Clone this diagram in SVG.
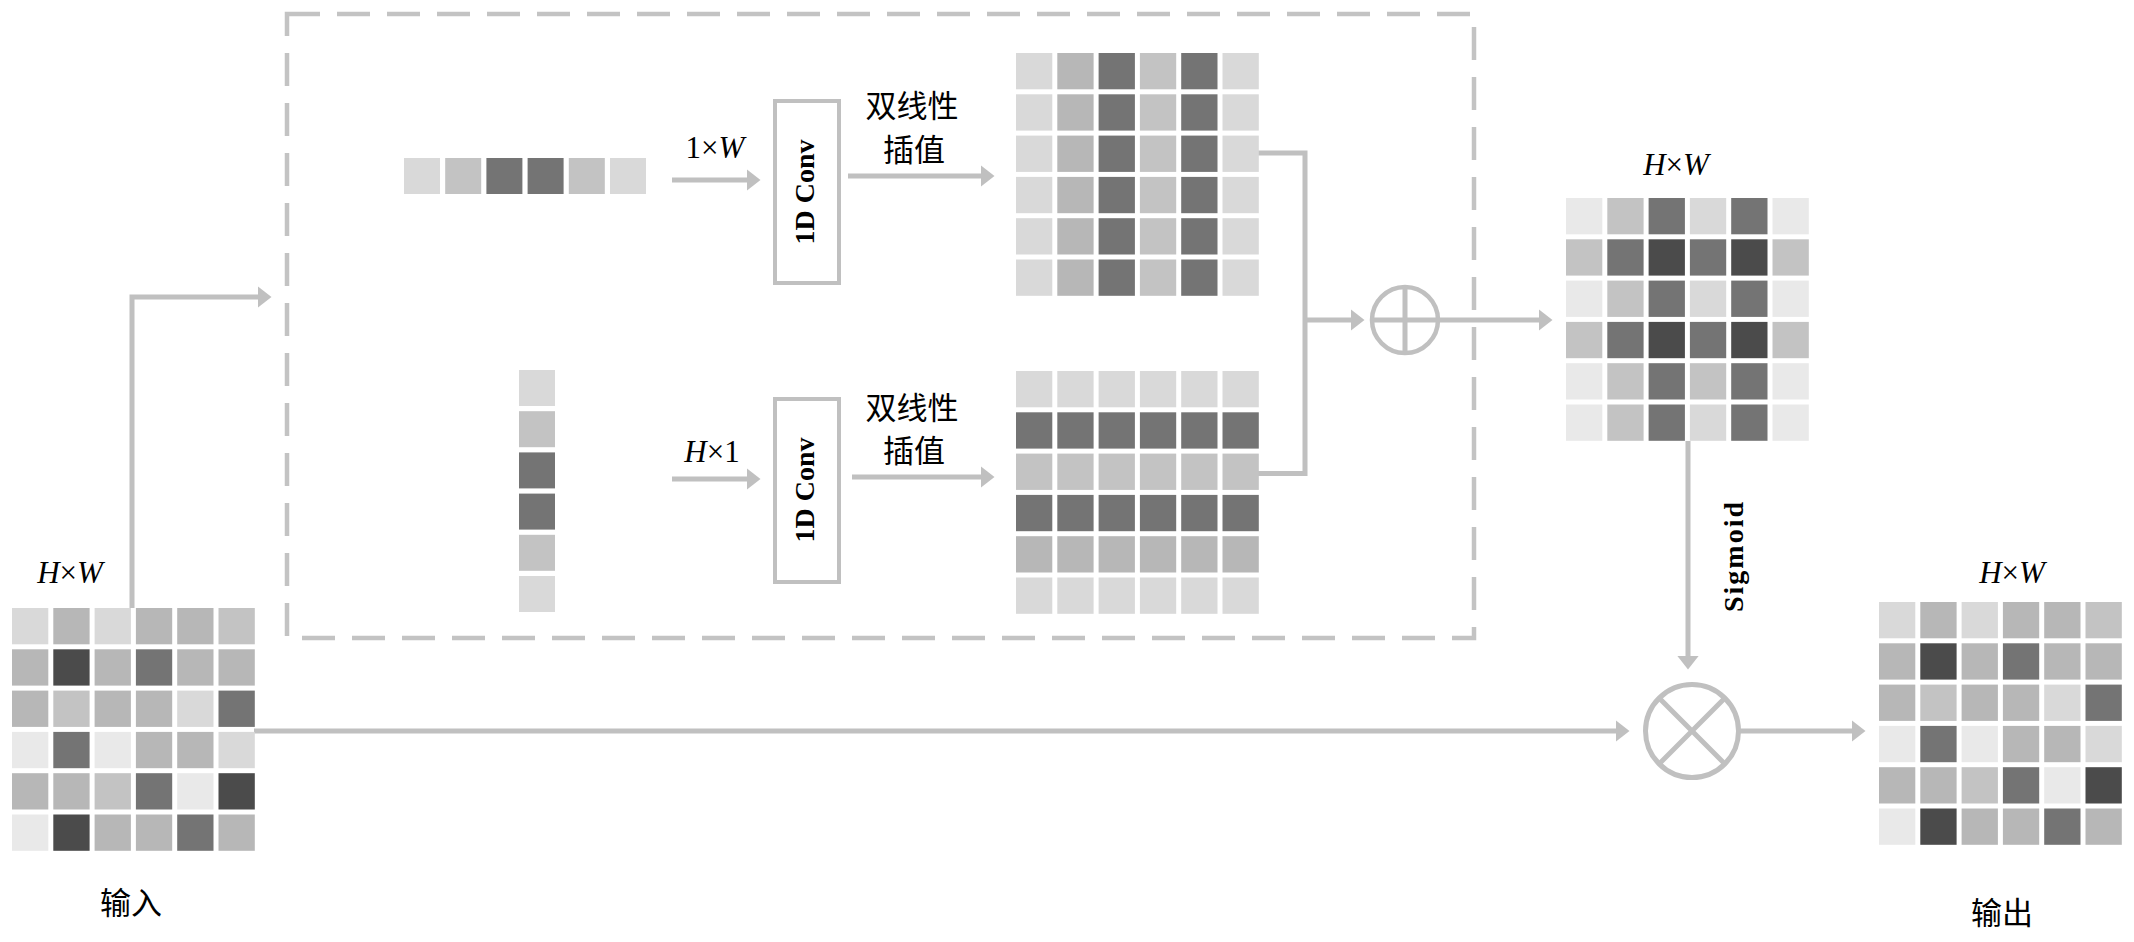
<svg xmlns="http://www.w3.org/2000/svg" width="2134" height="942" viewBox="0 0 2134 942">
<style>
.c1{fill:#e9e9e9}.c2{fill:#d9d9d9}.c3{fill:#c3c3c3}.c4{fill:#b7b7b7}.c5{fill:#747474}.c6{fill:#4b4b4b}
.ln{fill:none;stroke:#c0c0c0;stroke-width:5}
.box{fill:none;stroke:#c0c0c0;stroke-width:4}
.dash{fill:none;stroke:#c3c3c3;stroke-width:4.5;stroke-dasharray:33 17}
.lab{font-family:"Liberation Serif","Times New Roman",serif;font-size:31px;fill:#000}
.it{font-style:italic}
.bold{font-family:"Liberation Serif","Times New Roman",serif;font-weight:bold;font-size:28px;fill:#000}
.cjk{font-family:"Noto Sans CJK SC","Noto Sans",sans-serif;font-size:31px;fill:#000}
</style>
<defs>
<marker id="ah" viewBox="0 0 14 22" markerWidth="14" markerHeight="22" refX="0.5" refY="11" orient="auto" markerUnits="userSpaceOnUse">
<path d="M0,0 L14,11 L0,22 Z" fill="#c0c0c0"/>
</marker>
</defs>
<rect width="2134" height="942" fill="#fff"/>

<g id="dashed-box"><rect class="dash" x="287" y="14" width="1187" height="624"/></g>

<g id="connectors">
<path class="ln" d="M132,608 V297 H258" marker-end="url(#ah)"/>
<path class="ln" d="M672,180 H747" marker-end="url(#ah)"/>
<path class="ln" d="M672,479 H747" marker-end="url(#ah)"/>
<path class="ln" d="M848,176 H981" marker-end="url(#ah)"/>
<path class="ln" d="M852,477 H981" marker-end="url(#ah)"/>
<path class="ln" d="M1258,153 H1305 V473.5 H1258"/>
<path class="ln" d="M1305,320 H1351" marker-end="url(#ah)"/>
<path class="ln" d="M1438,320 H1539" marker-end="url(#ah)"/>
<path class="ln" d="M1688,441 V656" marker-end="url(#ah)"/>
<path class="ln" d="M254,731 H1616" marker-end="url(#ah)"/>
<path class="ln" d="M1739,731 H1852" marker-end="url(#ah)"/>
</g>

<g id="input">
<text class="lab" x="70" y="583" text-anchor="middle"><tspan class="it">H</tspan>×<tspan class="it">W</tspan></text>
<g transform="translate(12,608)">
<rect class="c2" x="0" y="0" width="36.3" height="36.3"/><rect class="c4" x="41.3" y="0" width="36.3" height="36.3"/><rect class="c2" x="82.6" y="0" width="36.3" height="36.3"/><rect class="c4" x="123.9" y="0" width="36.3" height="36.3"/><rect class="c4" x="165.2" y="0" width="36.3" height="36.3"/><rect class="c3" x="206.5" y="0" width="36.3" height="36.3"/>
<rect class="c4" x="0" y="41.3" width="36.3" height="36.3"/><rect class="c6" x="41.3" y="41.3" width="36.3" height="36.3"/><rect class="c4" x="82.6" y="41.3" width="36.3" height="36.3"/><rect class="c5" x="123.9" y="41.3" width="36.3" height="36.3"/><rect class="c4" x="165.2" y="41.3" width="36.3" height="36.3"/><rect class="c4" x="206.5" y="41.3" width="36.3" height="36.3"/>
<rect class="c4" x="0" y="82.6" width="36.3" height="36.3"/><rect class="c3" x="41.3" y="82.6" width="36.3" height="36.3"/><rect class="c4" x="82.6" y="82.6" width="36.3" height="36.3"/><rect class="c4" x="123.9" y="82.6" width="36.3" height="36.3"/><rect class="c2" x="165.2" y="82.6" width="36.3" height="36.3"/><rect class="c5" x="206.5" y="82.6" width="36.3" height="36.3"/>
<rect class="c1" x="0" y="123.9" width="36.3" height="36.3"/><rect class="c5" x="41.3" y="123.9" width="36.3" height="36.3"/><rect class="c1" x="82.6" y="123.9" width="36.3" height="36.3"/><rect class="c4" x="123.9" y="123.9" width="36.3" height="36.3"/><rect class="c4" x="165.2" y="123.9" width="36.3" height="36.3"/><rect class="c2" x="206.5" y="123.9" width="36.3" height="36.3"/>
<rect class="c4" x="0" y="165.2" width="36.3" height="36.3"/><rect class="c4" x="41.3" y="165.2" width="36.3" height="36.3"/><rect class="c3" x="82.6" y="165.2" width="36.3" height="36.3"/><rect class="c5" x="123.9" y="165.2" width="36.3" height="36.3"/><rect class="c1" x="165.2" y="165.2" width="36.3" height="36.3"/><rect class="c6" x="206.5" y="165.2" width="36.3" height="36.3"/>
<rect class="c1" x="0" y="206.5" width="36.3" height="36.3"/><rect class="c6" x="41.3" y="206.5" width="36.3" height="36.3"/><rect class="c4" x="82.6" y="206.5" width="36.3" height="36.3"/><rect class="c4" x="123.9" y="206.5" width="36.3" height="36.3"/><rect class="c5" x="165.2" y="206.5" width="36.3" height="36.3"/><rect class="c4" x="206.5" y="206.5" width="36.3" height="36.3"/>
</g>
<text class="cjk" x="131" y="914" text-anchor="middle" font-size="33">输入</text>
</g>

<g id="row-vector" transform="translate(404,158)">
<rect class="c2" x="0" y="0" width="36" height="36"/><rect class="c3" x="41.2" y="0" width="36" height="36"/><rect class="c5" x="82.4" y="0" width="36" height="36"/><rect class="c5" x="123.6" y="0" width="36" height="36"/><rect class="c3" x="164.8" y="0" width="36" height="36"/><rect class="c2" x="206" y="0" width="36" height="36"/>
</g>
<g id="col-vector" transform="translate(519,370)">
<rect class="c2" x="0" y="0" width="36" height="36"/><rect class="c3" x="0" y="41.2" width="36" height="36"/><rect class="c5" x="0" y="82.4" width="36" height="36"/><rect class="c5" x="0" y="123.6" width="36" height="36"/><rect class="c3" x="0" y="164.8" width="36" height="36"/><rect class="c2" x="0" y="206" width="36" height="36"/>
</g>

<g id="label-1xW"><text class="lab" x="715" y="158" text-anchor="middle">1×<tspan class="it">W</tspan></text></g>
<g id="label-Hx1"><text class="lab" x="712" y="462" text-anchor="middle"><tspan class="it">H</tspan>×1</text></g>

<g id="conv-top">
<rect class="box" x="775" y="101" width="64" height="182"/>
<text class="bold" transform="translate(814,192) rotate(-90)" text-anchor="middle">1D Conv</text>
</g>
<g id="conv-bottom">
<rect class="box" x="775" y="399" width="64" height="183"/>
<text class="bold" transform="translate(814,490) rotate(-90)" text-anchor="middle">1D Conv</text>
</g>

<g id="interp-top-label">
<text class="cjk" x="912" y="117" text-anchor="middle">双线性</text>
<text class="cjk" x="914" y="161" text-anchor="middle">插值</text>
</g>
<g id="interp-bottom-label">
<text class="cjk" x="912" y="419" text-anchor="middle">双线性</text>
<text class="cjk" x="914" y="462" text-anchor="middle">插值</text>
</g>

<g id="interp-top" transform="translate(1016,53)">
<g id="colrow">
<rect class="c2" x="0" y="0" width="36.3" height="36.3"/><rect class="c4" x="41.3" y="0" width="36.3" height="36.3"/><rect class="c5" x="82.6" y="0" width="36.3" height="36.3"/><rect class="c3" x="123.9" y="0" width="36.3" height="36.3"/><rect class="c5" x="165.2" y="0" width="36.3" height="36.3"/><rect class="c2" x="206.5" y="0" width="36.3" height="36.3"/>
</g>
<use href="#colrow" y="41.3"/><use href="#colrow" y="82.6"/><use href="#colrow" y="123.9"/><use href="#colrow" y="165.2"/><use href="#colrow" y="206.5"/>
</g>

<g id="interp-bottom" transform="translate(1016,371)">
<rect class="c2" x="0" y="0" width="242.8" height="36.3"/>
<rect class="c5" x="0" y="41.3" width="242.8" height="36.3"/>
<rect class="c3" x="0" y="82.6" width="242.8" height="36.3"/>
<rect class="c5" x="0" y="123.9" width="242.8" height="36.3"/>
<rect class="c4" x="0" y="165.2" width="242.8" height="36.3"/>
<rect class="c2" x="0" y="206.5" width="242.8" height="36.3"/>
<g fill="#fff"><rect x="36.3" y="0" width="5" height="243"/><rect x="77.6" y="0" width="5" height="243"/><rect x="118.9" y="0" width="5" height="243"/><rect x="160.2" y="0" width="5" height="243"/><rect x="201.5" y="0" width="5" height="243"/></g>
</g>

<g id="add-op">
<circle cx="1405" cy="320" r="33" fill="#fff" stroke="#c0c0c0" stroke-width="4.5"/>
<path class="ln" d="M1372,320 H1438 M1405,287 V353" stroke-width="4.5"/>
</g>

<g id="attention-map">
<text class="lab" x="1676" y="175" text-anchor="middle"><tspan class="it">H</tspan>×<tspan class="it">W</tspan></text>
<g transform="translate(1566,198)">
<g id="ar0"><rect class="c1" x="0" y="0" width="36.3" height="36.3"/><rect class="c3" x="41.3" y="0" width="36.3" height="36.3"/><rect class="c5" x="82.6" y="0" width="36.3" height="36.3"/><rect class="c2" x="123.9" y="0" width="36.3" height="36.3"/><rect class="c5" x="165.2" y="0" width="36.3" height="36.3"/><rect class="c1" x="206.5" y="0" width="36.3" height="36.3"/></g>
<g id="ar1"><rect class="c3" x="0" y="41.3" width="36.3" height="36.3"/><rect class="c5" x="41.3" y="41.3" width="36.3" height="36.3"/><rect class="c6" x="82.6" y="41.3" width="36.3" height="36.3"/><rect class="c5" x="123.9" y="41.3" width="36.3" height="36.3"/><rect class="c6" x="165.2" y="41.3" width="36.3" height="36.3"/><rect class="c3" x="206.5" y="41.3" width="36.3" height="36.3"/></g>
<use href="#ar0" y="82.6"/><use href="#ar1" y="82.6"/>
<rect class="c1" x="0" y="165.2" width="36.3" height="36.3"/><rect class="c3" x="41.3" y="165.2" width="36.3" height="36.3"/><rect class="c5" x="82.6" y="165.2" width="36.3" height="36.3"/><rect class="c3" x="123.9" y="165.2" width="36.3" height="36.3"/><rect class="c5" x="165.2" y="165.2" width="36.3" height="36.3"/><rect class="c1" x="206.5" y="165.2" width="36.3" height="36.3"/>
<use href="#ar0" y="206.5"/>
</g>
</g>

<g id="sigmoid-label"><text class="bold" transform="translate(1743,556) rotate(-90)" text-anchor="middle" letter-spacing="2">Sigmoid</text></g>

<g id="mul-op">
<circle cx="1692" cy="731" r="46.5" fill="#fff" stroke="#c0c0c0" stroke-width="5"/>
<path class="ln" d="M1659.1,698.1 L1724.9,763.9 M1724.9,698.1 L1659.1,763.9"/>
</g>

<g id="output">
<text class="lab" x="2012" y="583" text-anchor="middle"><tspan class="it">H</tspan>×<tspan class="it">W</tspan></text>
<g transform="translate(1879,602)">
<rect class="c2" x="0" y="0" width="36.3" height="36.3"/><rect class="c4" x="41.3" y="0" width="36.3" height="36.3"/><rect class="c2" x="82.6" y="0" width="36.3" height="36.3"/><rect class="c4" x="123.9" y="0" width="36.3" height="36.3"/><rect class="c4" x="165.2" y="0" width="36.3" height="36.3"/><rect class="c3" x="206.5" y="0" width="36.3" height="36.3"/>
<rect class="c4" x="0" y="41.3" width="36.3" height="36.3"/><rect class="c6" x="41.3" y="41.3" width="36.3" height="36.3"/><rect class="c4" x="82.6" y="41.3" width="36.3" height="36.3"/><rect class="c5" x="123.9" y="41.3" width="36.3" height="36.3"/><rect class="c4" x="165.2" y="41.3" width="36.3" height="36.3"/><rect class="c4" x="206.5" y="41.3" width="36.3" height="36.3"/>
<rect class="c4" x="0" y="82.6" width="36.3" height="36.3"/><rect class="c3" x="41.3" y="82.6" width="36.3" height="36.3"/><rect class="c4" x="82.6" y="82.6" width="36.3" height="36.3"/><rect class="c4" x="123.9" y="82.6" width="36.3" height="36.3"/><rect class="c2" x="165.2" y="82.6" width="36.3" height="36.3"/><rect class="c5" x="206.5" y="82.6" width="36.3" height="36.3"/>
<rect class="c1" x="0" y="123.9" width="36.3" height="36.3"/><rect class="c5" x="41.3" y="123.9" width="36.3" height="36.3"/><rect class="c1" x="82.6" y="123.9" width="36.3" height="36.3"/><rect class="c4" x="123.9" y="123.9" width="36.3" height="36.3"/><rect class="c4" x="165.2" y="123.9" width="36.3" height="36.3"/><rect class="c2" x="206.5" y="123.9" width="36.3" height="36.3"/>
<rect class="c4" x="0" y="165.2" width="36.3" height="36.3"/><rect class="c4" x="41.3" y="165.2" width="36.3" height="36.3"/><rect class="c3" x="82.6" y="165.2" width="36.3" height="36.3"/><rect class="c5" x="123.9" y="165.2" width="36.3" height="36.3"/><rect class="c1" x="165.2" y="165.2" width="36.3" height="36.3"/><rect class="c6" x="206.5" y="165.2" width="36.3" height="36.3"/>
<rect class="c1" x="0" y="206.5" width="36.3" height="36.3"/><rect class="c6" x="41.3" y="206.5" width="36.3" height="36.3"/><rect class="c4" x="82.6" y="206.5" width="36.3" height="36.3"/><rect class="c4" x="123.9" y="206.5" width="36.3" height="36.3"/><rect class="c5" x="165.2" y="206.5" width="36.3" height="36.3"/><rect class="c4" x="206.5" y="206.5" width="36.3" height="36.3"/>
</g>
<text class="cjk" x="2002" y="924" text-anchor="middle" font-size="33">输出</text>
</g>
</svg>
